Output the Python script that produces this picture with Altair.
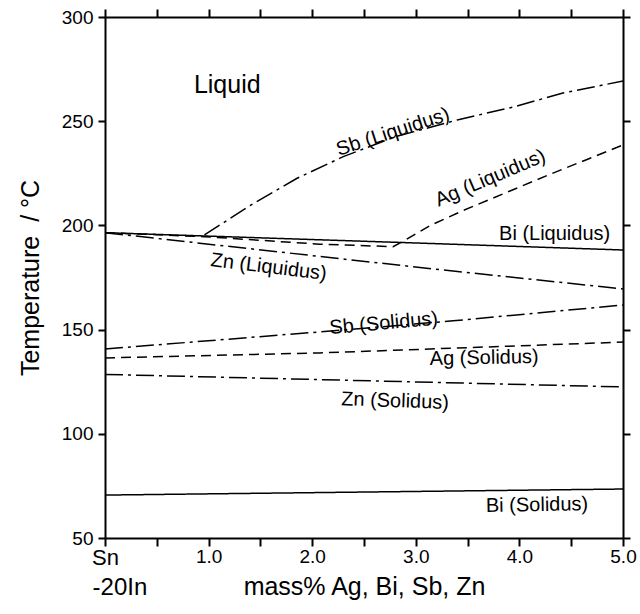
import altair as alt
import pandas as pd

# ---- data ----
bi_liq_x = [0.0, 2.8, 5.0]
bi_liq_y = [196.5, 191.9, 188.2]
ag_liq_x = [0.0, 0.96, 2.07, 2.78, 2.9, 3.14, 3.46, 4.27, 4.71, 5.0]
ag_liq_y = [196.5, 194.6, 191.0, 189.8, 193.0, 200.0, 207.2, 224.0, 232.8, 238.6]
sb_liq_x = [0.96, 1.4, 1.85, 2.3, 2.8, 3.4, 3.94, 4.42, 5.0]
sb_liq_y = [195.4, 209.5, 222.5, 233.0, 242.5, 250.6, 256.8, 263.5, 269.3]
zn_liq_x = [0.0, 3.04, 5.0]
zn_liq_y = [196.5, 179.8, 169.5]
sb_sol_x = [0.0, 2.07, 3.36, 5.0]
sb_sol_y = [140.7, 148.9, 154.2, 161.8]
ag_sol_x = [0.0, 2.07, 5.0]
ag_sol_y = [136.4, 138.8, 144.0]
zn_sol_x = [0.0, 5.0]
zn_sol_y = [128.5, 122.5]
bi_sol_x = [0.0, 5.0]
bi_sol_y = [70.6, 73.5]

label_text = ["Liquid", "Sb (Liquidus)", "Ag (Liquidus)", "Bi (Liquidus)", "Zn (Liquidus)",
              "Sb (Solidus)", "Ag (Solidus)", "Zn (Solidus)", "Bi (Solidus)"]
label_x = [1.18, 2.78, 3.72, 4.34, 1.58, 2.69, 3.66, 2.8, 4.17]
label_y = [267.4, 244.8, 222.7, 195.9, 180.0, 153.0, 136.4, 115.7, 65.8]
label_angle = [0, 342, 337, 0, 7, 355, 359, 2, 359]
label_size = [25, 20, 20, 20, 20, 20, 20, 20, 20]

x_ticks = [0, 0.5, 1, 1.5, 2, 2.5, 3, 3.5, 4, 4.5, 5]
y_ticks = [50, 100, 150, 200, 250, 300]

series = [
    ("Bi liq", "solid", bi_liq_x, bi_liq_y),
    ("Ag liq", "dash", ag_liq_x, ag_liq_y),
    ("Sb liq", "dashdot", sb_liq_x, sb_liq_y),
    ("Zn liq", "dashdot", zn_liq_x, zn_liq_y),
    ("Sb sol", "dashdot", sb_sol_x, sb_sol_y),
    ("Ag sol", "dash", ag_sol_x, ag_sol_y),
    ("Zn sol", "dashdot", zn_sol_x, zn_sol_y),
    ("Bi sol", "solid", bi_sol_x, bi_sol_y),
]
rows = []
for name, style, xs, ys in series:
    for i, (xv, yv) in enumerate(zip(xs, ys)):
        rows.append({"series": name, "style": style, "x": xv, "y": yv, "order": i})
df = pd.DataFrame(rows)
labels = pd.DataFrame({"text": label_text, "x": label_x, "y": label_y,
                       "angle": label_angle, "size": label_size})

FONT = "Liberation Sans"
xscale = alt.Scale(domain=[0, 5], nice=False, zero=False)
yscale = alt.Scale(domain=[50, 300], nice=False, zero=False)

x_bottom = alt.Axis(values=x_ticks, orient="bottom", grid=False, tickSize=8, tickWidth=2,
                    domainWidth=2, domainColor="black", tickColor="black",
                    labelExpr="datum.value == 0 ? 'Sn' : (datum.value % 1 == 0 ? format(datum.value, '.1f') : '')",
                    labelFont=FONT,
                    labelFontSize={"condition": {"test": "datum.value == 0", "value": 22}, "value": 19},
                    labelColor="black", labelPadding=1,
                    labelFlush=False, labelOverlap=False,
                    title="mass% Ag, Bi, Sb, Zn", titleFont=FONT, titleFontSize=25,
                    titleFontWeight="normal", titleColor="black", titlePadding=6)
y_left = alt.Axis(values=y_ticks, orient="left", grid=False, tickSize=7, tickWidth=2,
                  domainWidth=2, domainColor="black", tickColor="black",
                  labelFont=FONT, labelFontSize=19, labelColor="black", labelPadding=5,
                  title="Temperature \u00a0/ °C", titleFont=FONT, titleFontSize=25,
                  titleFontWeight="normal", titleColor="black", titlePadding=18)
x_top = alt.Axis(values=x_ticks, orient="top", grid=False, tickSize=8, tickWidth=2,
                 domainWidth=2, domainColor="black", tickColor="black", labels=False, title="")
y_right = alt.Axis(values=y_ticks, orient="right", grid=False, tickSize=7, tickWidth=2,
                   domainWidth=2, domainColor="black", tickColor="black", labels=False, title="")

lines = alt.Chart(df).mark_line(color="black", strokeWidth=1.5).encode(
    x=alt.X("x:Q", scale=xscale, axis=x_bottom),
    y=alt.Y("y:Q", scale=yscale, axis=y_left),
    detail="series:N",
    order="order:Q",
    strokeDash=alt.StrokeDash("style:N", legend=None,
                              scale=alt.Scale(domain=["solid", "dash", "dashdot"],
                                              range=[[1, 0], [10, 6], [18, 5, 3, 5]])),
)

frame = alt.Chart(df).mark_point(opacity=0).encode(
    x=alt.X("x:Q", scale=xscale, axis=x_top),
    y=alt.Y("y:Q", scale=yscale, axis=y_right),
)

texts = alt.Chart(labels).mark_text(font=FONT, color="black", align="center",
                                    baseline="middle").encode(
    x=alt.X("x:Q", scale=xscale, axis=None),
    y=alt.Y("y:Q", scale=yscale, axis=None),
    text="text:N",
    angle=alt.Angle("angle:Q", scale=None),
    size=alt.Size("size:Q", scale=None, legend=None),
)

sub = alt.Chart(pd.DataFrame({"t": ["-20In"], "x": [-0.12]})).mark_text(
    font=FONT, fontSize=24, color="black", align="left", baseline="alphabetic", clip=False
).encode(x=alt.X("x:Q", scale=xscale, axis=None), y=alt.value(578), text="t:N")

chart = alt.layer(lines, frame, texts, sub).resolve_axis(
    x="independent", y="independent"
).properties(
    width=518, height=521,
    autosize=alt.AutoSizeParams(type="none"),
    padding={"left": 105, "top": 17, "right": 17, "bottom": 76},
    background="white",
).configure_view(stroke=None)

chart.save("out.html", embed_options={"renderer": "svg", "actions": False})
